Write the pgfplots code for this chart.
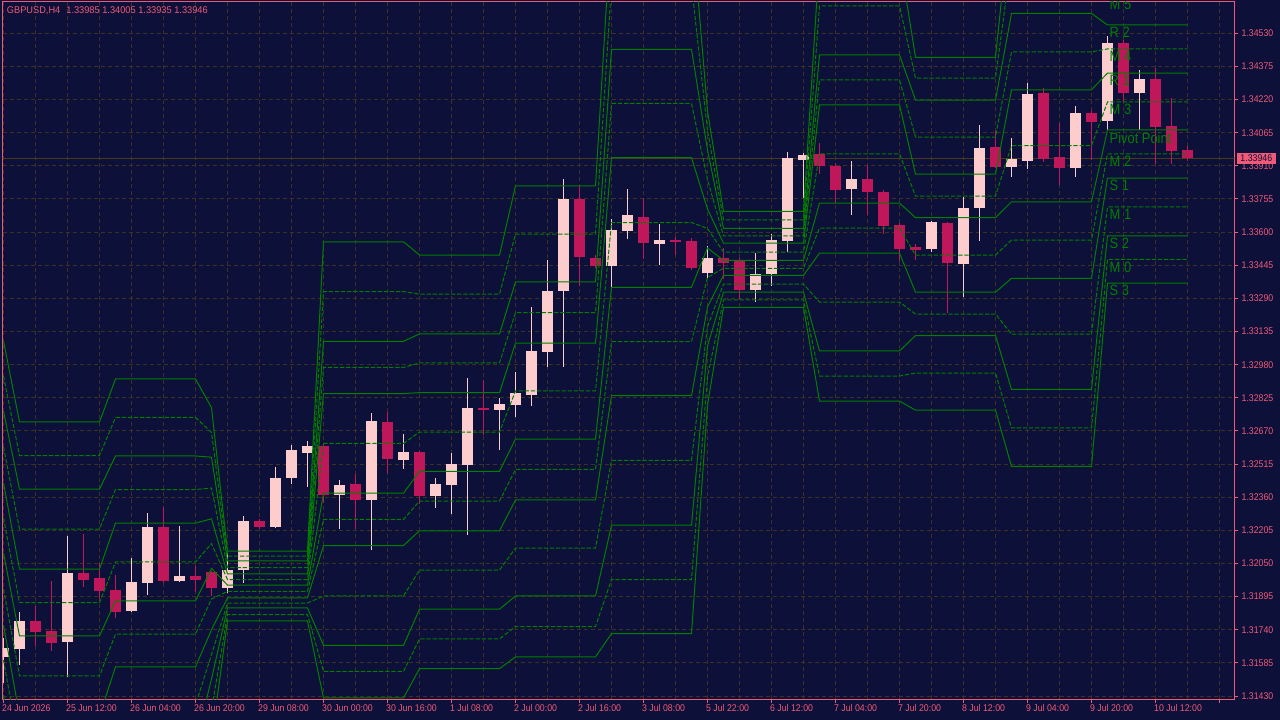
\documentclass[border=0pt]{standalone}
\usepackage{fontspec}
\setmainfont{Liberation Sans}[FakeStretch=0.9]
\newfontfamily\lblfamily{Liberation Sans}[FakeStretch=0.86]
\newfontfamily\ttlfamily{Liberation Sans}[FakeStretch=0.95]
\usepackage{pgfplots}
\usepackage{pgfplotstable}
\pgfplotsset{compat=1.18}
\definecolor{bgc}{RGB}{13,16,56}
\definecolor{pinkc}{RGB}{240,90,120}
\definecolor{gridc}{RGB}{60,50,36}
\definecolor{curc}{RGB}{72,56,32}
\definecolor{greenc}{RGB}{0,128,0}
\definecolor{bullc}{RGB}{252,205,204}
\definecolor{bearc}{RGB}{192,22,90}
\newcommand\tickfont{\fontsize{7.3pt}{8pt}\selectfont}
\newcommand\ttlfont{\ttlfamily\fontsize{7.3pt}{8pt}\selectfont}
\newcommand\lblfont{\lblfamily\fontsize{11.25pt}{12pt}\selectfont}

\pgfplotstableread{
i O H L C
0 1.31613 1.31701 1.31491 1.31655
1 1.31650 1.31823 1.31575 1.31781
4 1.31683 1.32179 1.31519 1.32005
8 1.31828 1.32076 1.31823 1.31963
9 1.31959 1.32286 1.31903 1.32221
11 1.31968 1.32225 1.31963 1.31991
14 1.31935 1.32099 1.31912 1.32019
15 1.32019 1.32272 1.31959 1.32249
17 1.32221 1.32501 1.32216 1.32450
18 1.32450 1.32604 1.32422 1.32581
19 1.32567 1.32623 1.32408 1.32600
21 1.32370 1.32441 1.32211 1.32417
23 1.32347 1.32754 1.32113 1.32717
25 1.32534 1.32656 1.32492 1.32571
27 1.32366 1.32450 1.32310 1.32422
28 1.32417 1.32567 1.32281 1.32515
29 1.32511 1.32918 1.32183 1.32777
31 1.32768 1.32824 1.32581 1.32796
32 1.32791 1.32946 1.32735 1.32848
33 1.32838 1.33250 1.32787 1.33044
34 1.33039 1.33470 1.32969 1.33325
35 1.33325 1.33849 1.32969 1.33755
38 1.33442 1.33661 1.33343 1.33610
39 1.33605 1.33802 1.33568 1.33680
41 1.33545 1.33638 1.33446 1.33563
44 1.33409 1.33535 1.33385 1.33479
47 1.33329 1.33502 1.33273 1.33404
48 1.33404 1.33591 1.33348 1.33563
49 1.33559 1.33975 1.33507 1.33947
50 1.33937 1.33970 1.33760 1.33961
53 1.33802 1.33933 1.33680 1.33849
58 1.33521 1.33652 1.33507 1.33647
60 1.33451 1.33764 1.33297 1.33713
61 1.33713 1.34101 1.33559 1.33994
63 1.33905 1.34040 1.33858 1.33942
64 1.33933 1.34298 1.33895 1.34246
67 1.33900 1.34190 1.33858 1.34157
69 1.34120 1.34518 1.34078 1.34485
71 1.34251 1.34358 1.34078 1.34316
}\bull

\pgfplotstableread{
i O H L C
2 1.31781 1.31851 1.31664 1.31730
3 1.31734 1.31968 1.31641 1.31678
5 1.32005 1.32188 1.31940 1.31973
6 1.31982 1.32052 1.31884 1.31921
7 1.31926 1.31996 1.31795 1.31823
10 1.32221 1.32314 1.31959 1.31968
12 1.31991 1.32038 1.31917 1.31973
13 1.32010 1.32015 1.31898 1.31935
16 1.32249 1.32258 1.32211 1.32221
20 1.32600 1.32609 1.32333 1.32370
22 1.32422 1.32469 1.32211 1.32347
24 1.32712 1.32759 1.32473 1.32539
26 1.32571 1.32576 1.32328 1.32366
30 1.32777 1.32908 1.32651 1.32768
36 1.33755 1.33816 1.33348 1.33484
37 1.33479 1.33493 1.33432 1.33442
40 1.33671 1.33760 1.33474 1.33549
42 1.33563 1.33577 1.33493 1.33554
43 1.33559 1.33573 1.33423 1.33432
45 1.33479 1.33526 1.33381 1.33456
46 1.33465 1.33479 1.33287 1.33329
51 1.33966 1.34017 1.33872 1.33909
52 1.33909 1.33923 1.33736 1.33797
54 1.33849 1.33914 1.33680 1.33788
55 1.33788 1.33797 1.33591 1.33629
56 1.33633 1.33643 1.33465 1.33521
57 1.33530 1.33545 1.33470 1.33516
59 1.33643 1.33647 1.33222 1.33456
62 1.33998 1.34073 1.33900 1.33905
65 1.34251 1.34274 1.33928 1.33942
66 1.33952 1.34111 1.33821 1.33900
68 1.34157 1.34171 1.33937 1.34115
70 1.34485 1.34499 1.34209 1.34251
72 1.34316 1.34368 1.33919 1.34092
73 1.34097 1.34228 1.33919 1.33980
74 1.33985 1.34005 1.33935 1.33946
}\bear

% daily pivot levels: R3 M5 R2 M4 R1 M3 P M2 S1 M1 S2 M0 S3
\pgfplotstableread{
i R3 M5 R2 M4 R1 M3 P M2 S1 M1 S2 M0 S3
0 1.33091 1.32927 1.32763 1.32595 1.32426 1.32263 1.32099 1.31931 1.31762 1.31598 1.31435 1.31266 1.31098
1 1.32712 1.32555 1.32398 1.32211 1.32024 1.31867 1.31711 1.31524 1.31337 1.31180 1.31023 1.30836 1.30649
6 1.32712 1.32555 1.32398 1.32211 1.32024 1.31867 1.31711 1.31524 1.31337 1.31180 1.31023 1.30836 1.30649
7 1.32913 1.32733 1.32553 1.32396 1.32239 1.32057 1.31875 1.31720 1.31566 1.31388 1.31210 1.31053 1.30897
12 1.32913 1.32733 1.32553 1.32396 1.32239 1.32057 1.31875 1.31720 1.31566 1.31388 1.31210 1.31053 1.30897
13 1.32779 1.32663 1.32547 1.32403 1.32259 1.32143 1.32027 1.31884 1.31740 1.31624 1.31509 1.31365 1.31221
14 1.32108 1.32085 1.32062 1.32031 1.32001 1.31975 1.31949 1.31919 1.31889 1.31865 1.31842 1.31811 1.31781
19 1.32108 1.32085 1.32062 1.32031 1.32001 1.31975 1.31949 1.31919 1.31889 1.31865 1.31842 1.31811 1.31781
20 1.33555 1.33322 1.33089 1.32967 1.32845 1.32612 1.32379 1.32256 1.32134 1.31898 1.31667 1.31545 1.31421
25 1.33555 1.33322 1.33089 1.32967 1.32845 1.32612 1.32379 1.32256 1.32134 1.31898 1.31667 1.31545 1.31421
26 1.33493 1.33310 1.33124 1.32988 1.32849 1.32665 1.32481 1.32342 1.32203 1.32019 1.31836 1.31697 1.31558
31 1.33493 1.33310 1.33124 1.32988 1.32849 1.32665 1.32481 1.32342 1.32203 1.32019 1.31836 1.31697 1.31558
32 1.33816 1.33591 1.33367 1.33224 1.33081 1.32857 1.32632 1.32490 1.32347 1.32122 1.31898 1.31755 1.31613
37 1.33816 1.33591 1.33367 1.33224 1.33081 1.32857 1.32632 1.32490 1.32347 1.32122 1.31898 1.31755 1.31613
38 1.35062 1.34758 1.34455 1.34202 1.33948 1.33645 1.33342 1.33088 1.32835 1.32532 1.32229 1.31975 1.31722
43 1.35062 1.34758 1.34455 1.34202 1.33948 1.33645 1.33342 1.33088 1.32835 1.32532 1.32229 1.31975 1.31722
44 1.34167 1.34075 1.33984 1.33846 1.33708 1.33617 1.33526 1.33388 1.33250 1.33159 1.33067 1.32925 1.32791
45 1.33697 1.33657 1.33617 1.33582 1.33548 1.33507 1.33468 1.33431 1.33398 1.33357 1.33319 1.33283 1.33248
50 1.33697 1.33657 1.33617 1.33582 1.33548 1.33507 1.33468 1.33431 1.33398 1.33357 1.33319 1.33283 1.33248
51 1.34887 1.34658 1.34429 1.34312 1.34195 1.33966 1.33736 1.33619 1.33502 1.33273 1.33044 1.32927 1.32810
56 1.34887 1.34658 1.34429 1.34312 1.34195 1.33966 1.33736 1.33619 1.33502 1.33273 1.33044 1.32927 1.32810
57 1.34418 1.34321 1.34218 1.34045 1.33871 1.33769 1.33668 1.33493 1.33319 1.33217 1.33116 1.32941 1.32767
62 1.34418 1.34321 1.34218 1.34045 1.33871 1.33769 1.33668 1.33493 1.33319 1.33217 1.33116 1.32941 1.32767
63 1.35143 1.34882 1.34623 1.34443 1.34266 1.34005 1.33742 1.33563 1.33384 1.33123 1.32864 1.32684 1.32504
68 1.35143 1.34882 1.34623 1.34443 1.34266 1.34005 1.33742 1.33563 1.33384 1.33123 1.32864 1.32684 1.32504
69 1.34836 1.34702 1.34569 1.34457 1.34344 1.34209 1.34078 1.33966 1.33853 1.33718 1.33582 1.33472 1.33362
74 1.34836 1.34702 1.34569 1.34457 1.34344 1.34209 1.34078 1.33966 1.33853 1.33718 1.33582 1.33472 1.33362
}\lv

\begin{document}
\begin{tikzpicture}
\fill[bgc] (0,0) rectangle (960pt,540pt);
\begin{axis}[
  at={(2.025pt,15.525pt)}, anchor=south west,
  scale only axis, width=923.7pt, height=522.975pt,
  xmin=-0.05, xmax=76.925,
  ymin=1.314147, ymax=1.346766,
  scaled x ticks=false, scaled y ticks=false,
  axis line style={pinkc, line width=0.75pt},
  xtick={0,4,...,76},
  xticklabels={24 Jun 2026, 25 Jun 12:00, 26 Jun 04:00, 26 Jun 20:00, 29 Jun 08:00, 30 Jun 00:00, 30 Jun 16:00, 1 Jul 08:00, 2 Jul 00:00, 2 Jul 16:00, 3 Jul 08:00, 5 Jul 22:00, 6 Jul 12:00, 7 Jul 04:00, 7 Jul 20:00, 8 Jul 12:00, 9 Jul 04:00, 9 Jul 20:00, 10 Jul 12:00, {}},
  minor xtick={2,6,...,74},
  ytick={1.31430,1.31585,1.31740,1.31895,1.32050,1.32205,1.32360,1.32515,1.32670,1.32825,1.32980,1.33135,1.33290,1.33445,1.33600,1.33755,1.33910,1.34065,1.34220,1.34375,1.34530},
  yticklabels={1.31430,1.31585,1.31740,1.31895,1.32050,1.32205,1.32360,1.32515,1.32670,1.32825,1.32980,1.33135,1.33290,1.33445,1.33600,1.33755,1.33910,1.34065,1.34220,1.34375,1.34530},
  xtick pos=left, ytick pos=right, yticklabel pos=right,
  tick align=outside, major tick length=3pt, minor tick length=0pt,
  tick style={pinkc, line width=0.75pt},
  xmajorgrids, xminorgrids, ymajorgrids,
  major grid style={gridc, line width=0.75pt, dash pattern=on 3pt off 2.25pt},
  minor grid style={gridc, line width=0.75pt, dash pattern=on 3pt off 2.25pt},
  every tick label/.append style={font=\tickfont, text=pinkc, inner sep=0pt},
  xticklabel style={anchor=north west, xshift=-1.2pt, yshift=-0.6pt},
  yticklabel style={anchor=west, xshift=2.3pt},
]
% current price line
\addplot[curc, line width=0.75pt] coordinates {(-1,1.33946) (78,1.33946)};
% candles: wicks and bodies
\pgfplotsset{nomk/.style={only marks, mark=*, mark size=0pt, mark options={draw opacity=0, fill opacity=0}}}
\addplot[nomk, error bars/.cd, y dir=plus, y explicit, error mark=none,
  error bar style={solid, line width=0.75pt, color=bullc, draw opacity=1}]
  table[x=i, y=L, y error expr=\thisrow{H}-\thisrow{L}] {\bull};
\addplot[nomk, error bars/.cd, y dir=plus, y explicit, error mark=none,
  error bar style={solid, line width=8.25pt, color=bullc, draw opacity=1}]
  table[x=i, y=O, y error expr=\thisrow{C}-\thisrow{O}] {\bull};
\addplot[nomk, error bars/.cd, y dir=plus, y explicit, error mark=none,
  error bar style={solid, line width=0.75pt, color=bearc, draw opacity=1}]
  table[x=i, y=L, y error expr=\thisrow{H}-\thisrow{L}] {\bear};
\addplot[nomk, error bars/.cd, y dir=plus, y explicit, error mark=none,
  error bar style={solid, line width=8.25pt, color=bearc, draw opacity=1}]
  table[x=i, y=C, y error expr=\thisrow{O}-\thisrow{C}] {\bear};
% pivot levels
\pgfplotsset{lvs/.style={greenc, line width=0.75pt, mark=none}, lvd/.style={greenc, line width=0.75pt, mark=none, dash pattern=on 3.2pt off 1.4pt}}
\addplot[lvs] table[x=i, y=R3] {\lv};
\addplot[lvd] table[x=i, y=M5] {\lv};
\addplot[lvs] table[x=i, y=R2] {\lv};
\addplot[lvd] table[x=i, y=M4] {\lv};
\addplot[lvs] table[x=i, y=R1] {\lv};
\addplot[lvd] table[x=i, y=M3] {\lv};
\addplot[lvs] table[x=i, y=P] {\lv};
\addplot[lvd] table[x=i, y=M2] {\lv};
\addplot[lvs] table[x=i, y=S1] {\lv};
\addplot[lvd] table[x=i, y=M1] {\lv};
\addplot[lvs] table[x=i, y=S2] {\lv};
\addplot[lvd] table[x=i, y=M0] {\lv};
\addplot[lvs] table[x=i, y=S3] {\lv};
% level labels
\tikzset{lbl/.style={anchor=north west, inner sep=0pt, text=greenc, font=\lblfont, yshift=-1.6pt}}
\node[lbl] at (axis cs:69.12,1.34702) {M 5};
\node[lbl] at (axis cs:69.12,1.34569) {R 2};
\node[lbl] at (axis cs:69.12,1.34457) {M 4};
\node[lbl] at (axis cs:69.12,1.34344) {R 1};
\node[lbl] at (axis cs:69.12,1.34209) {M 3};
\node[lbl] at (axis cs:69.12,1.34078) {Pivot Point};
\node[lbl] at (axis cs:69.12,1.33966) {M 2};
\node[lbl] at (axis cs:69.12,1.33853) {S 1};
\node[lbl] at (axis cs:69.12,1.33718) {M 1};
\node[lbl] at (axis cs:69.12,1.33582) {S 2};
\node[lbl] at (axis cs:69.12,1.33472) {M 0};
\node[lbl] at (axis cs:69.12,1.33362) {S 3};
\coordinate (cp) at (axis cs:76.925,1.33946);
\end{axis}
\node[anchor=west, fill=pinkc, text=bgc, inner sep=0pt, minimum width=29.6pt, minimum height=8pt, font=\tickfont, xshift=1.5pt] at (cp) {1.33946};
\node[anchor=north west, inner sep=0pt, text=pinkc, font=\ttlfont] at (5pt,535pt) {GBPUSD,H4\hspace{4.5pt}1.33985 1.34005 1.33935 1.33946};
\pgfresetboundingbox
\path[use as bounding box] (0,0) rectangle (960pt,540pt);
\end{tikzpicture}
\end{document}
